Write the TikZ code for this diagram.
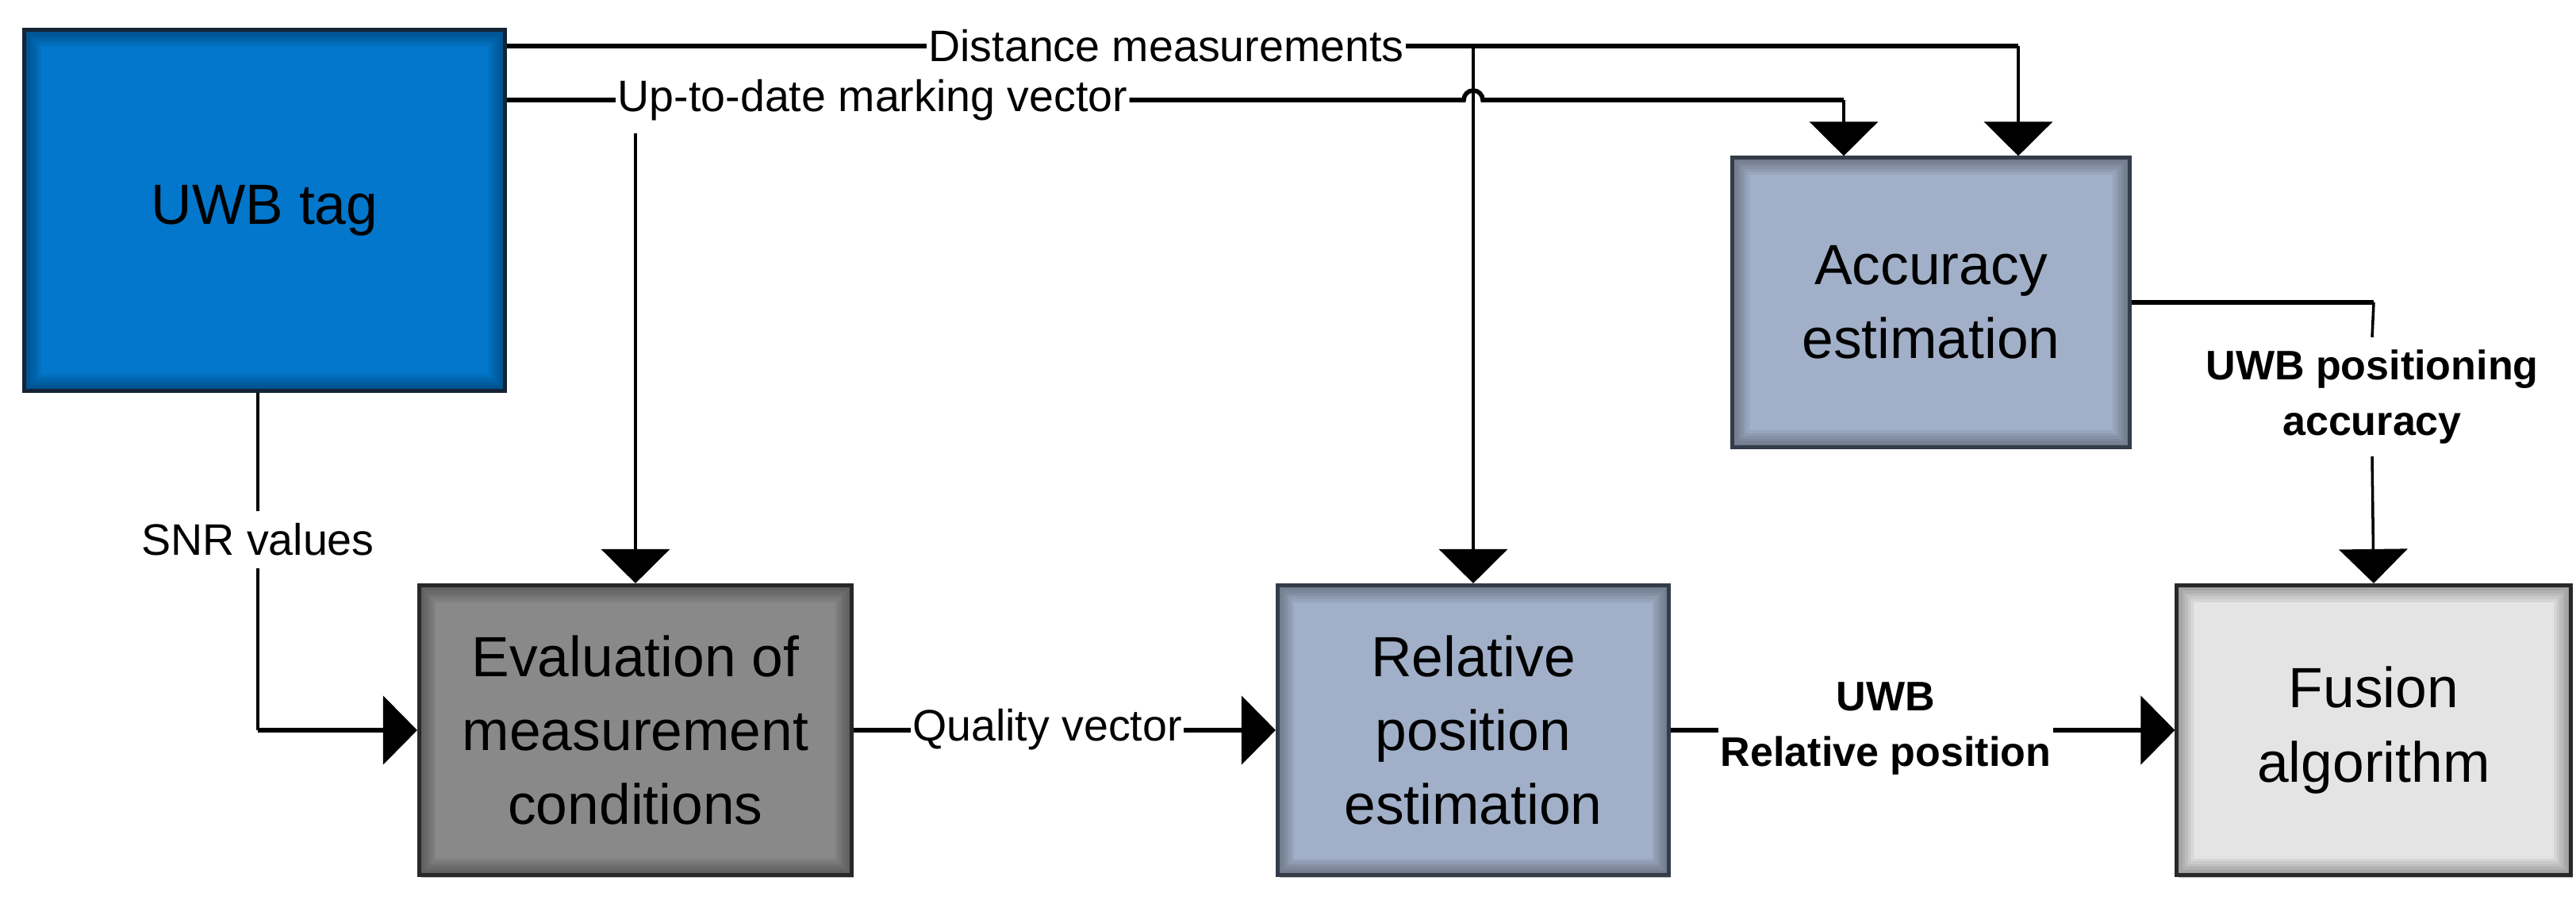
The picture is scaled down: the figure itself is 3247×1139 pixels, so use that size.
\documentclass[tikz,border=0pt]{standalone}
\usepackage{fontspec}
\setmainfont{Liberation Sans}
\usetikzlibrary{arrows.meta,calc,shadows}
\definecolor{tagblue}{RGB}{3,119,203}
\definecolor{tagedge}{RGB}{20,36,52}
\definecolor{slate}{RGB}{161,176,200}
\definecolor{slateedge}{RGB}{52,60,74}
\definecolor{evalgray}{RGB}{137,137,137}
\definecolor{fusgray}{RGB}{228,228,228}
\definecolor{darkedge}{RGB}{40,40,40}
\tikzset{
  blk/.style={rectangle, line width=1.4pt, align=center, inner sep=0pt,
    font=\fontsize{20.3}{26.5}\selectfont,
    drop shadow={shadow xshift=0.7pt, shadow yshift=-0.9pt, fill=black!25, opacity=1},
    path picture={\foreach \w in {2,4,6,8,10,12}{\draw[black,opacity=0.06,line width=\w pt] (path picture bounding box.south west) rectangle (path picture bounding box.north east);}}},
  lab/.style={font=\fontsize{15.8}{19}\selectfont, inner xsep=0.5pt, inner ysep=4.3pt, align=center},
  blab/.style={lab, font=\fontsize{14.8}{19.9}\selectfont\bfseries},
  hl/.style={line width=1.6pt},
  vl/.style={line width=1.0pt},
  arr/.style={-{Triangle[width=0.86cm,length=0.43cm]}},
}
\begin{document}
\begin{tikzpicture}[x=0.01cm,y=-0.01cm]
\fill[white] (0,0) rectangle (3247,1139);
\useasboundingbox (0,0) rectangle (3247,1139);

% boxes
\node[blk, fill=tagblue, draw=tagedge, minimum width=6.05cm, minimum height=4.54cm] (tag) at (333.5,265) {UWB tag};
\node[blk, fill=slate, draw=slateedge, minimum width=5.0cm, minimum height=3.64cm] (acc) at (2434,381) {Accuracy\\estimation};
\node[blk, fill=evalgray, draw=darkedge, minimum width=5.45cm, minimum height=3.65cm] (eval) at (801,920) {Evaluation of\\measurement\\conditions};
\node[blk, fill=slate, draw=slateedge, minimum width=4.93cm, minimum height=3.65cm] (rel) at (1857,920) {Relative\\position\\estimation};
\node[blk, fill=fusgray, draw=darkedge, minimum width=4.96cm, minimum height=3.65cm] (fus) at (2992,920) {Fusion\\algorithm};

% labels
\node[lab] (dist) at (1470,58) {Distance measurements};
\node[lab] (mark) at (1100,126) {Up-to-date marking vector};
\node[lab] (snr) at (325,680) {SNR values};
\node[lab] (qual) at (1320,919) {Quality vector};
\node[blab] (uwbrel) at (2377,918) {UWB\\Relative position};
\node[blab] (accur) at (2990,500) {UWB positioning\\accuracy};

\coordinate (accL) at ($(acc.north)+(-110,0)$);
\coordinate (accR) at ($(acc.north)+(110,0)$);

% distance measurements
\draw[hl] (tag.east |- dist.west) -- (dist.west);
\draw[hl] (dist.east) -- (accR |- dist.east);
\draw[vl,arr] (accR |- dist.east) -- (accR);
\draw[vl,arr] (rel.north |- dist.east) -- (rel.north);

% up-to-date marking vector
\draw[hl] (tag.east |- mark.west) -- (mark.west);
\draw[hl] (mark.east) -- ($(rel.north |- mark.east)+(-12,0)$)
   arc[start angle=180, end angle=0, radius=0.12cm] -- (accL |- mark.east);
\draw[vl,arr] (accL |- mark.east) -- (accL);
\draw[vl,arr] (mark.south -| eval.north) -- (eval.north);

% SNR values
\draw[vl] (snr.north |- tag.south) -- (snr.north);
\draw[vl] (snr.south) -- (snr.south |- eval.west);
\draw[hl,arr] (snr.south |- eval.west) -- (eval.west);

% quality vector
\draw[hl] (eval.east) -- (eval.east -| qual.west);
\draw[hl,arr] (qual.east |- rel.west) -- (rel.west);

% UWB relative position
\draw[hl] (rel.east) -- (rel.east -| uwbrel.west);
\draw[hl,arr] (uwbrel.east |- fus.west) -- (fus.west);

% accuracy to fusion
\draw[hl] (acc.east) -- (fus.north |- acc.east);
\draw[vl] (fus.north |- acc.east) -- (accur.north);
\draw[vl,arr] (accur.south) -- (fus.north);
\end{tikzpicture}
\end{document}
